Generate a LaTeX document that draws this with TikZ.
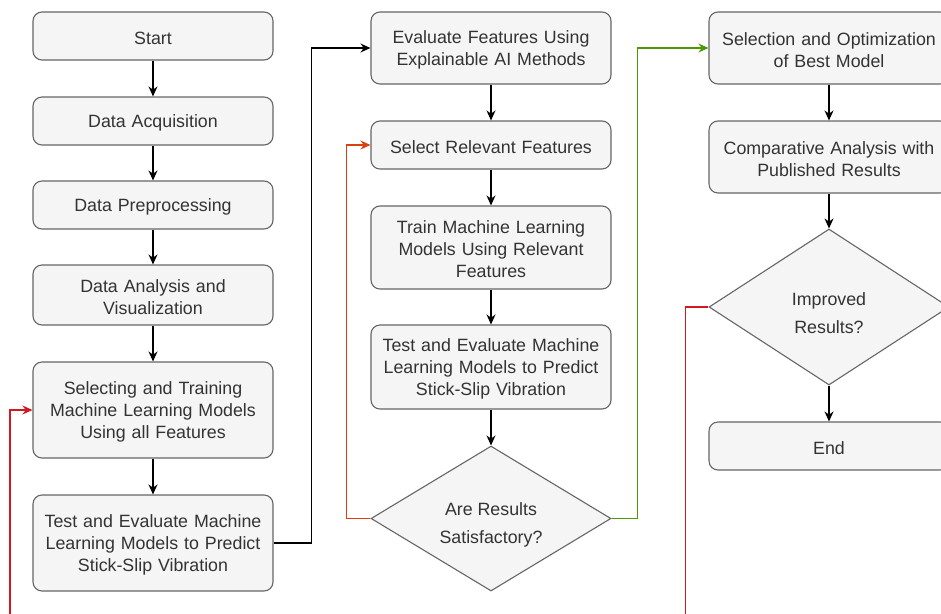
\documentclass[tikz,border=0pt]{standalone}
\usepackage{fontspec}
\setmainfont{Liberation Sans}
\usetikzlibrary{arrows.meta,shapes.geometric}
\definecolor{boxfill}{HTML}{F5F5F5}
\definecolor{boxline}{HTML}{666666}
\definecolor{txt}{HTML}{333333}
\definecolor{loopred}{HTML}{D4181F}
\definecolor{looporange}{HTML}{D9400F}
\definecolor{loopgreen}{HTML}{4D9900}
\begin{document}
\begin{tikzpicture}[x=1pt,y=-1pt,
  box/.style={draw=boxline, fill=boxfill, rounded corners=9pt, minimum width=240pt,
    text width=228pt, align=center, font=\fontsize{17.8}{22}\selectfont, text=txt,
    line width=1.1pt, inner sep=0pt, text height=17pt},
  dia/.style={draw=boxline, fill=boxfill, diamond, minimum width=240pt, inner sep=0pt,
    line width=1.1pt},
  dtext/.style={align=center, font=\fontsize{17.8}{28}\selectfont, text=txt, yshift=-6pt},
  arr/.style={line width=1.3pt, -{Stealth[length=10pt,width=9pt]}},
]
\useasboundingbox (0,0) rectangle (941,613);
\clip (0,0) rectangle (941,613);
\fill[white] (0,0) rectangle (941,613);
% column 1
\node[box, minimum height=48pt] (start) at (153,36) {Start};
\node[box, minimum height=48pt] (acq) at (153,121) {Data Acquisition};
\node[box, minimum height=48pt] (pre) at (153,205) {Data Preprocessing};
\node[box, minimum height=60pt] (ana) at (153,295) {Data Analysis and\\Visualization};
\node[box, minimum height=96pt] (tr) at (153,410) {Selecting and Training\\Machine Learning Models\\Using all Features};
\node[box, minimum height=96pt] (te) at (153,543) {Test and Evaluate Machine\\Learning Models to Predict\\Stick-Slip Vibration};
% column 2
\node[box, minimum height=72pt] (ev) at (491,48) {Evaluate Features Using\\Explainable AI Methods};
\node[box, minimum height=48pt] (sel) at (491,145) {Select Relevant Features};
\node[box, minimum height=83pt] (tr2) at (491,247.5) {Train Machine Learning\\Models Using Relevant\\Features};
\node[box, minimum height=84pt] (te2) at (491,367) {Test and Evaluate Machine\\Learning Models to Predict\\Stick-Slip Vibration};
\node[dia, minimum height=145pt, label={[dtext]center:Are Results\\Satisfactory?}] (d1) at (491,518.5) {};
% column 3
\node[box, minimum height=72pt] (opt) at (829,48) {Selection and Optimization\\of Best Model};
\node[box, minimum height=72pt] (cmp) at (829,157) {Comparative Analysis with\\Published Results};
\node[dia, minimum height=156pt, label={[dtext]center:Improved\\Results?}] (d2) at (829,307) {};
\node[box, minimum height=48pt] (fin) at (829,446) {End};
% straight arrows
\draw[arr] (start) -- (acq);
\draw[arr] (acq) -- (pre);
\draw[arr] (pre) -- (ana);
\draw[arr] (ana) -- (tr);
\draw[arr] (tr) -- (te);
\draw[arr] (ev) -- (sel);
\draw[arr] (sel) -- (tr2);
\draw[arr] (tr2) -- (te2);
\draw[arr] (te2) -- (d1);
\draw[arr] (opt) -- (cmp);
\draw[arr] (cmp) -- (d2);
\draw[arr] (d2) -- (fin);
% elbow connectors
\draw[arr] (te.east) -- ++(38,0) |- (ev.west);
\draw[arr, draw=looporange] (d1.west) -- ++(-24,0) |- (sel.west);
\draw[arr, draw=loopgreen] (d1.east) -- ++(26,0) |- (opt.west);
\coordinate (loopc) at (10,650);
\draw[arr, draw=loopred] (d2.west) -- ++(-23,0) |- (loopc) |- (tr.west);
\end{tikzpicture}
\end{document}
